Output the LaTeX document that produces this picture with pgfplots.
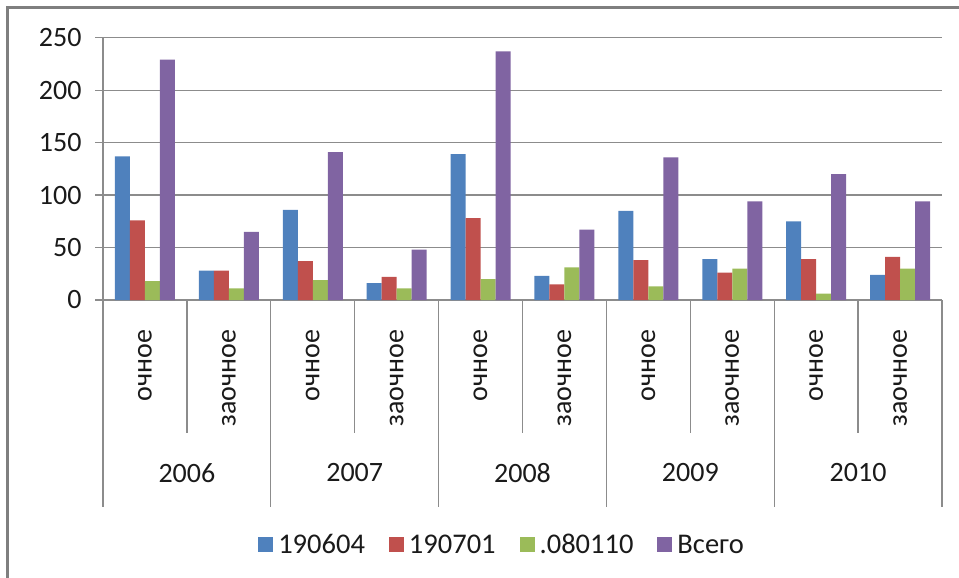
\documentclass[border=0pt]{standalone}
\usepackage{pgfplots}
\pgfplotsset{compat=1.18}
\usepackage{fontspec}
\setmainfont{Carlito}
\definecolor{cBlue}{HTML}{4F81BD}
\definecolor{cRed}{HTML}{C0504D}
\definecolor{cGreen}{HTML}{9BBB59}
\definecolor{cPurple}{HTML}{8064A2}
\definecolor{gridgray}{HTML}{8C8C8C}
\definecolor{bordergray}{HTML}{7F7F7F}
\definecolor{txt}{HTML}{1A1A1A}
\begin{document}
\begin{tikzpicture}
\path[use as bounding box] (0pt,0pt) rectangle (959pt,-578pt);
\draw[line width=2.2pt, draw=bordergray] (7.5pt,-578pt) -- (7.5pt,-7.5pt) -- (959pt,-7.5pt);
\begin{axis}[
  at={(103pt,-300pt)}, anchor=south west,
  scale only axis, width=839pt, height=262.3pt,
  xmin=-0.5, xmax=9.5, ymin=0, ymax=250,
  ybar=0pt, bar width=15pt,
  ytick={0,50,...,250},
  ymajorgrids, grid style={draw=gridgray, line width=1.3pt},
  axis lines*=left,
  axis line style={draw=gridgray, line width=1.3pt},
  tick align=outside, major tick length=8pt,
  ytick style={draw=gridgray, line width=1.3pt},
  xtick style={draw=none},
  xtick={0,...,9},
  xticklabels={очное,заочное,очное,заочное,очное,заочное,очное,заочное,очное,заочное},
  /pgf/number format/assume math mode=true,
  tick label style={font=\fontsize{28}{32}\selectfont, text=txt},
  xticklabel style={yshift=-18pt, rotate=90, anchor=east},
  yticklabel style={anchor=east, xshift=-10pt},
  clip=false,
  legend columns=4,
  legend style={draw=none, at={(0.4756,-0.934)}, anchor=center,
    font=\fontsize{28.5}{32}\selectfont, text=txt,
    /tikz/every odd column/.append style={column sep=3pt},
    /tikz/every even column/.append style={column sep=22pt}},
  legend image code/.code={\fill[#1] (0pt,-7.5pt) rectangle (15pt,7.5pt);},
]
\addplot[fill=cBlue, draw=none] coordinates {(0,137) (1,28) (2,86) (3,16) (4,139) (5,23) (6,85) (7,39) (8,75) (9,24)};
\addplot[fill=cRed, draw=none] coordinates {(0,76) (1,28) (2,37) (3,22) (4,78) (5,15) (6,38) (7,26) (8,39) (9,41)};
\addplot[fill=cGreen, draw=none] coordinates {(0,18) (1,11) (2,19) (3,11) (4,20) (5,31) (6,13) (7,30) (8,6) (9,30)};
\addplot[fill=cPurple, draw=none] coordinates {(0,229) (1,65) (2,141) (3,48) (4,237) (5,67) (6,136) (7,94) (8,120) (9,94)};
\legend{190604,190701,.080110,Всего}
\pgfplotsinvokeforeach{0.5,2.5,4.5,6.5,8.5}{
  \draw[draw=gridgray, line width=1.3pt] (axis cs:#1,0) -- ++(0pt,-133pt);
}
\pgfplotsinvokeforeach{-0.5,1.5,3.5,5.5,7.5,9.5}{
  \draw[draw=gridgray, line width=1.3pt] (axis cs:#1,0) -- ++(0pt,-207pt);
}
\node[font=\fontsize{28}{32}\selectfont, text=txt] at ([yshift=-173pt]axis cs:0.5,0) {2006};
\node[font=\fontsize{28}{32}\selectfont, text=txt] at ([yshift=-173pt]axis cs:2.5,0) {2007};
\node[font=\fontsize{28}{32}\selectfont, text=txt] at ([yshift=-173pt]axis cs:4.5,0) {2008};
\node[font=\fontsize{28}{32}\selectfont, text=txt] at ([yshift=-173pt]axis cs:6.5,0) {2009};
\node[font=\fontsize{28}{32}\selectfont, text=txt] at ([yshift=-173pt]axis cs:8.5,0) {2010};
\end{axis}
\end{tikzpicture}
\end{document}
